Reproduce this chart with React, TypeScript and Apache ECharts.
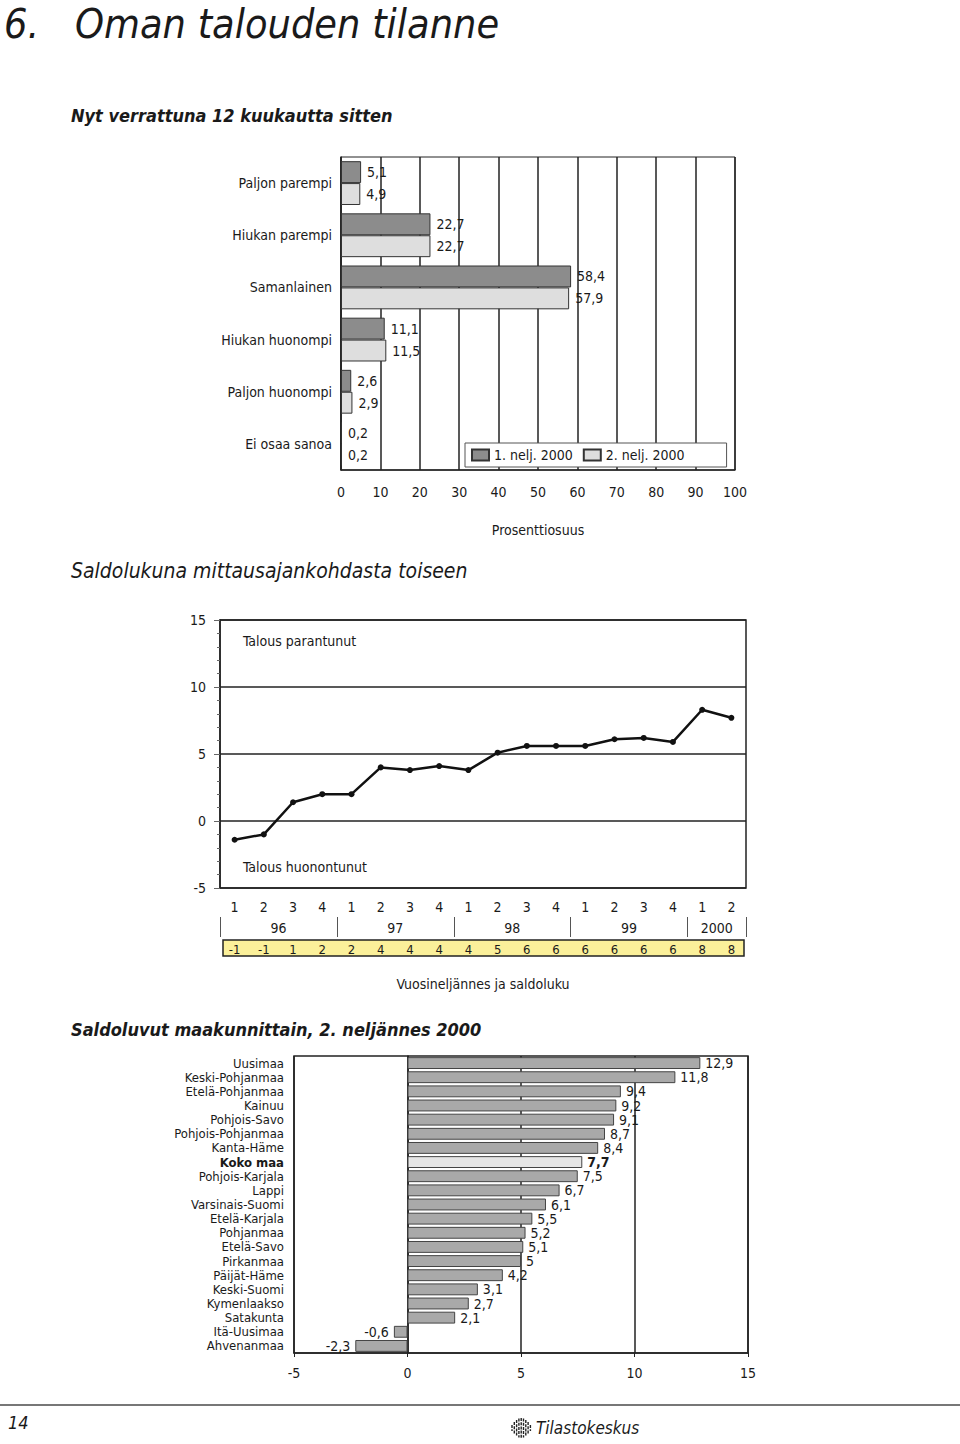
import React, { useEffect, useRef } from 'react';
import * as echarts from 'echarts';

const FONT = '"Liberation Sans Narrow", "DejaVu Sans Condensed", "Noto Sans", sans-serif';

// Chart 1: Nyt verrattuna 12 kuukautta sitten
const opinionCategories = ['Paljon parempi', 'Hiukan parempi', 'Samanlainen', 'Hiukan huonompi', 'Paljon huonompi', 'Ei osaa sanoa'];
const q1Values = [5.1, 22.7, 58.4, 11.1, 2.6, 0.2];
const q2Values = [4.9, 22.7, 57.9, 11.5, 2.9, 0.2];
const seriesNames = ['1. nelj. 2000', '2. nelj. 2000'];

// Chart 2: Saldolukuna mittausajankohdasta toiseen
const quarterLabels = ['1', '2', '3', '4', '1', '2', '3', '4', '1', '2', '3', '4', '1', '2', '3', '4', '1', '2'];
const years = ['96', '97', '98', '99', '2000'];
const quartersPerYear = [4, 4, 4, 4, 2];
const saldoValues = [-1.4, -1.0, 1.4, 2.0, 2.0, 4.0, 3.8, 4.1, 3.8, 5.1, 5.6, 5.6, 5.6, 6.1, 6.2, 5.9, 8.3, 7.7];
const saldoRounded = [-1, -1, 1, 2, 2, 4, 4, 4, 4, 5, 6, 6, 6, 6, 6, 6, 8, 8];

// Chart 3: Saldoluvut maakunnittain, 2. neljännes 2000
const regions = ['Uusimaa', 'Keski-Pohjanmaa', 'Etelä-Pohjanmaa', 'Kainuu', 'Pohjois-Savo', 'Pohjois-Pohjanmaa', 'Kanta-Häme', 'Koko maa', 'Pohjois-Karjala', 'Lappi', 'Varsinais-Suomi', 'Etelä-Karjala', 'Pohjanmaa', 'Etelä-Savo', 'Pirkanmaa', 'Päijät-Häme', 'Keski-Suomi', 'Kymenlaakso', 'Satakunta', 'Itä-Uusimaa', 'Ahvenanmaa'];
const regionValues = [12.9, 11.8, 9.4, 9.2, 9.1, 8.7, 8.4, 7.7, 7.5, 6.7, 6.1, 5.5, 5.2, 5.1, 5, 4.2, 3.1, 2.7, 2.1, -0.6, -2.3];
const totalRegion = 'Koko maa';

const fmt = (v: number) => String(v).replace('.', ',');

const yearBounds: number[] = [0];
quartersPerYear.forEach((q) => yearBounds.push(yearBounds[yearBounds.length - 1] + q));
const yearCenters = quartersPerYear.map((q, i) => yearBounds[i] + q / 2);

const TXT = '#1a1a1a';
const LINE = '#222';

function buildOption(): any {
  const logoBars = [6, 12, 16, 19, 20, 19, 16, 12, 6];
  const logo = logoBars.map((h, i) => ({
    type: 'line',
    shape: { x1: 512 + i * 2.3, y1: 1428 - h / 2, x2: 512 + i * 2.3, y2: 1428 + h / 2 },
    style: { stroke: '#222', lineWidth: 1.4, lineDash: [3, 1.2] },
  }));
  return {
    animation: false,
    backgroundColor: '#fff',
    textStyle: { fontFamily: FONT, color: TXT },
    legend: {
      data: seriesNames,
      left: 465,
      top: 443,
      orient: 'horizontal',
      padding: [5, 42, 5, 6],
      itemGap: 10,
      itemWidth: 17,
      itemHeight: 11,
      icon: 'rect',
      borderColor: '#555',
      borderWidth: 1,
      backgroundColor: '#fff',
      textStyle: { fontFamily: FONT, fontSize: 14, color: TXT },
    },
    grid: [
      { left: 341, top: 157, width: 394, height: 313, show: true, borderColor: LINE, borderWidth: 1, backgroundColor: '#fff' },
      { left: 220, top: 620, width: 526, height: 268, show: true, borderColor: LINE, borderWidth: 1.5, backgroundColor: 'transparent' },
      { left: 294, top: 1056, width: 454, height: 297, show: true, borderColor: LINE, borderWidth: 1.5, backgroundColor: 'transparent' },
    ],
    xAxis: [
      {
        gridIndex: 0, type: 'value', min: 0, max: 100, interval: 10,
        axisLine: { show: true, lineStyle: { color: LINE, width: 1.5 } },
        axisTick: { show: false },
        axisLabel: { fontFamily: FONT, fontSize: 14, color: TXT, margin: 15 },
        splitLine: { show: true, lineStyle: { color: LINE, width: 1.5 } },
        name: 'Prosenttiosuus', nameLocation: 'middle', nameGap: 53,
        nameTextStyle: { fontFamily: FONT, fontSize: 14, color: TXT },
      },
      {
        gridIndex: 1, type: 'category', data: quarterLabels, boundaryGap: true,
        axisLine: { show: false }, axisTick: { show: false },
        axisLabel: { fontFamily: FONT, fontSize: 14, color: TXT, margin: 12, interval: 0 },
        name: 'Vuosineljännes ja saldoluku', nameLocation: 'middle', nameGap: 89,
        nameTextStyle: { fontFamily: FONT, fontSize: 14, color: TXT },
      },
      {
        gridIndex: 1, type: 'value', min: 0, max: yearBounds[yearBounds.length - 1], position: 'bottom', offset: 29,
        axisLine: { show: false },
        axisTick: { show: true, customValues: yearBounds, length: 20, lineStyle: { color: '#555', width: 1 } },
        axisLabel: {
          customValues: yearCenters, fontFamily: FONT, fontSize: 14, color: TXT, margin: 4,
          formatter: (v: number) => { const i = yearCenters.indexOf(v); return i >= 0 ? years[i] : ''; },
        },
        splitLine: { show: false },
      },
      {
        gridIndex: 1, type: 'category', data: quarterLabels, boundaryGap: true, position: 'bottom', offset: 52,
        axisLine: { show: false }, axisTick: { show: false },
        axisLabel: {
          fontFamily: FONT, fontSize: 13, color: TXT, margin: 3, interval: 0,
          formatter: (_v: string, i: number) => String(saldoRounded[i]),
        },
      },
      {
        gridIndex: 2, type: 'value', min: -5, max: 15, interval: 5,
        axisLine: { show: true, lineStyle: { color: LINE, width: 1.5 } },
        axisTick: { show: true, length: 4, lineStyle: { color: LINE } },
        axisLabel: { fontFamily: FONT, fontSize: 14, color: TXT, margin: 13 },
        splitLine: { show: true, lineStyle: { color: LINE, width: 1.5 } },
      },
    ],
    yAxis: [
      {
        gridIndex: 0, type: 'category', data: opinionCategories, inverse: true,
        axisLine: { show: true, lineStyle: { color: LINE, width: 1.5 } },
        axisTick: { show: false },
        axisLabel: { fontFamily: FONT, fontSize: 14, color: TXT, margin: 9 },
      },
      {
        gridIndex: 1, type: 'value', min: -5, max: 15, interval: 5,
        axisLine: { show: true, lineStyle: { color: LINE, width: 1.5 } },
        axisTick: { show: true, length: 6, lineStyle: { color: '#666' } },
        minorTick: { show: true, splitNumber: 5, length: 3, lineStyle: { color: '#666' } },
        axisLabel: { fontFamily: FONT, fontSize: 14, color: TXT, margin: 14 },
        splitLine: { show: true, lineStyle: { color: LINE, width: 1.5 } },
      },
      {
        gridIndex: 2, type: 'category', data: regions, inverse: true,
        axisLine: { show: true, lineStyle: { color: LINE, width: 1.5 } },
        axisTick: { show: false },
        axisLabel: {
          fontFamily: FONT, fontSize: 13, color: TXT, margin: 10, interval: 0, lineHeight: 14,
          formatter: (v: string) => (v === totalRegion ? '{b|' + v + '}' : v),
          rich: { b: { fontFamily: FONT, fontSize: 13, fontWeight: 'bold', color: TXT } },
        },
      },
    ],
    series: [
      {
        name: seriesNames[0], type: 'bar', xAxisIndex: 0, yAxisIndex: 0, data: q1Values,
        barGap: '0%', barCategoryGap: '16%',
        itemStyle: { color: '#8c8c8c', borderColor: '#333', borderWidth: 1 },
        label: { show: true, position: 'right', distance: 6, fontFamily: FONT, fontSize: 14, color: TXT, formatter: (p: any) => fmt(p.value) },
      },
      {
        name: seriesNames[1], type: 'bar', xAxisIndex: 0, yAxisIndex: 0, data: q2Values,
        barGap: '0%', barCategoryGap: '16%',
        itemStyle: { color: '#dedede', borderColor: '#333', borderWidth: 1 },
        label: { show: true, position: 'right', distance: 6, fontFamily: FONT, fontSize: 14, color: TXT, formatter: (p: any) => fmt(p.value) },
      },
      {
        name: 'Saldoluku', type: 'line', xAxisIndex: 1, yAxisIndex: 1, data: saldoValues,
        symbol: 'circle', symbolSize: 6,
        lineStyle: { color: '#111', width: 2.5 },
        itemStyle: { color: '#111' },
      },
      {
        name: 'Maakunnat', type: 'bar', xAxisIndex: 4, yAxisIndex: 2, barCategoryGap: '16%',
        data: regionValues.map((v, i) => {
          const total = regions[i] === totalRegion;
          return {
            value: v,
            itemStyle: { color: total ? '#e6e6e6' : '#a9a9a9', borderColor: '#444', borderWidth: 1 },
            label: { position: v < 0 ? 'left' : 'right', fontWeight: total ? 'bold' : 'normal' },
          };
        }),
        label: { show: true, distance: 5, fontFamily: FONT, fontSize: 14, color: TXT, formatter: (p: any) => fmt(p.value) },
      },
    ],
    graphic: {
      elements: [
        { type: 'text', x: 4, y: 24, style: { text: '6.', fontFamily: FONT, fontSize: 41, fontStyle: 'italic', fill: TXT, verticalAlign: 'middle' } },
        { type: 'text', x: 75, y: 24, style: { text: 'Oman talouden tilanne', fontFamily: FONT, fontSize: 41, fontStyle: 'italic', fill: TXT, verticalAlign: 'middle' } },
        { type: 'text', x: 71, y: 115, style: { text: 'Nyt verrattuna 12 kuukautta sitten', fontFamily: FONT, fontSize: 18, fontStyle: 'italic', fontWeight: 'bold', fill: TXT, verticalAlign: 'middle' } },
        { type: 'text', x: 71, y: 571, style: { text: 'Saldolukuna mittausajankohdasta toiseen', fontFamily: FONT, fontSize: 21, fontStyle: 'italic', fill: TXT, verticalAlign: 'middle' } },
        { type: 'text', x: 71, y: 1029, style: { text: 'Saldoluvut maakunnittain, 2. neljännes 2000', fontFamily: FONT, fontSize: 18, fontStyle: 'italic', fontWeight: 'bold', fill: TXT, verticalAlign: 'middle' } },
        { type: 'text', x: 243, y: 641, style: { text: 'Talous parantunut', fontFamily: FONT, fontSize: 14, fill: TXT, verticalAlign: 'middle' } },
        { type: 'text', x: 243, y: 867, style: { text: 'Talous huonontunut', fontFamily: FONT, fontSize: 14, fill: TXT, verticalAlign: 'middle' } },
        { type: 'rect', z: -1, shape: { x: 223, y: 940, width: 521, height: 16 }, style: { fill: '#fbf09a', stroke: '#222', lineWidth: 1.5 } },
        { type: 'line', shape: { x1: 0, y1: 1405, x2: 960, y2: 1405 }, style: { stroke: '#777', lineWidth: 2 } },
        { type: 'text', x: 8, y: 1422, style: { text: '14', fontFamily: FONT, fontSize: 18, fontStyle: 'italic', fill: TXT, verticalAlign: 'middle' } },
        ...logo,
        { type: 'text', x: 536, y: 1428, style: { text: 'Tilastokeskus', fontFamily: FONT, fontSize: 17, fontStyle: 'italic', fill: TXT, verticalAlign: 'middle' } },
      ],
    },
  };
}

export default function App() {
  const ref = useRef<HTMLDivElement>(null);
  useEffect(() => {
    if (!ref.current) return;
    const chart = echarts.init(ref.current, null, { renderer: 'svg' });
    chart.setOption(buildOption());
    return () => chart.dispose();
  }, []);
  return <div ref={ref} style={{ position: 'absolute', left: 0, top: 0, width: 960, height: 1444, background: '#fff' }} />;
}
